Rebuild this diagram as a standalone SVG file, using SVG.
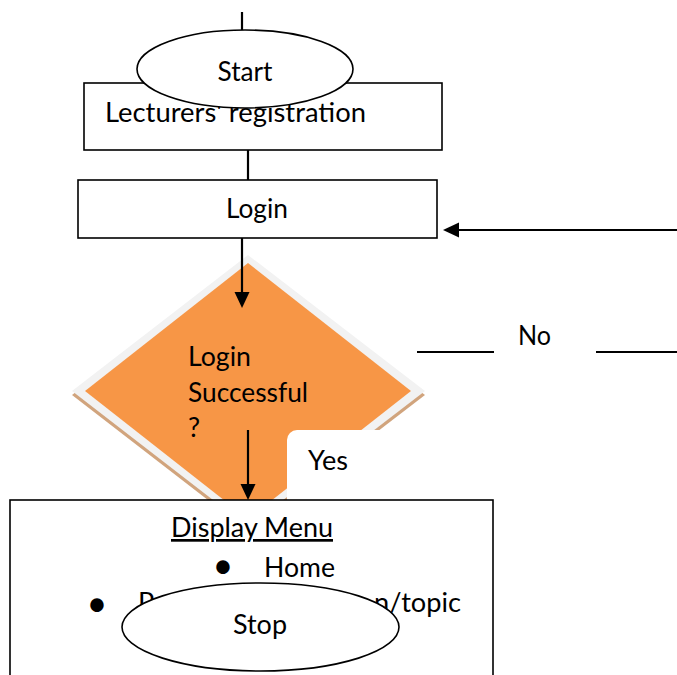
<svg xmlns="http://www.w3.org/2000/svg" width="677" height="675" viewBox="0 0 677 675">
<style>
.t{font-family:Lato,"Liberation Sans",sans-serif;font-size:27px;fill:#000}
.box{fill:#fff;stroke:#000;stroke-width:1.6}
.con{stroke:#000;stroke-width:2.2;fill:none}
</style>
<defs>
<marker id="ah" markerUnits="userSpaceOnUse" markerWidth="17" markerHeight="16" refX="6" refY="7.5" orient="auto">
<path d="M0,0 L16,7.5 L0,15 z" fill="#000"/>
</marker>
</defs>
<rect width="677" height="675" fill="#fff"/>
<g id="lecturers-registration">
<rect class="box" x="84" y="83" width="358" height="67"/>
<text class="t" x="105" y="122" textLength="261" lengthAdjust="spacingAndGlyphs">Lecturers' registration</text>
</g>
<g id="start">
<ellipse class="box" cx="245" cy="69" rx="108" ry="39"/>
<text class="t" x="245" y="81" text-anchor="middle" textLength="55" lengthAdjust="spacingAndGlyphs">Start</text>
</g>
<g id="login">
<rect class="box" x="78" y="180" width="359" height="58"/>
<text class="t" x="257" y="218" text-anchor="middle" textLength="62" lengthAdjust="spacingAndGlyphs">Login</text>
</g>
<g id="login-successful">
<polygon points="248,259 425,395 248,531 72,395" fill="#D1A47D"/>
<polygon points="248,255 425,391 248,527 72,391" fill="#F2F2F2"/>
<polygon points="248,263 411,391 248,519 85,391" fill="#F79646"/>
<text class="t" x="188" y="366" textLength="63" lengthAdjust="spacingAndGlyphs">Login</text>
<text class="t" x="188" y="402" textLength="120" lengthAdjust="spacingAndGlyphs">Successful</text>
<text class="t" x="188" y="437">?</text>
</g>
<g id="yes-label">
<rect x="287" y="430" width="106" height="80" rx="10" fill="#fff"/>
<text class="t" x="308" y="470" textLength="40" lengthAdjust="spacingAndGlyphs">Yes</text>
</g>
<g id="display-menu">
<rect class="box" x="10" y="500" width="483" height="200"/>
<text class="t" x="252" y="537" text-anchor="middle" text-decoration="underline" textLength="162" lengthAdjust="spacingAndGlyphs">Display Menu</text>
<text class="t" x="223" y="578" text-anchor="middle" style="font-size:36px">•</text>
<text class="t" x="264" y="577" textLength="71" lengthAdjust="spacingAndGlyphs">Home</text>
<text class="t" x="97" y="616" text-anchor="middle" style="font-size:36px">•</text>
<text class="t" x="138" y="612">P<tspan x="374" textLength="87" lengthAdjust="spacingAndGlyphs">n/topic</tspan></text>
</g>
<g id="stop">
<ellipse class="box" cx="260.5" cy="627" rx="138.5" ry="44"/>
<text class="t" x="260" y="634" text-anchor="middle" textLength="54" lengthAdjust="spacingAndGlyphs">Stop</text>
</g>
<g id="connectors">
<line class="con" x1="242" y1="12" x2="242" y2="30"/>
<line class="con" x1="248" y1="150" x2="248" y2="180"/>
<line class="con" x1="242" y1="238" x2="242" y2="298" marker-end="url(#ah)"/>
<line class="con" x1="248" y1="430" x2="248" y2="490" marker-end="url(#ah)"/>
<line class="con" x1="677" y1="230" x2="453" y2="230" marker-end="url(#ah)"/>
<line class="con" x1="417" y1="352" x2="677" y2="352"/>
<rect x="494" y="318" width="102" height="44" fill="#fff"/>
<text class="t" x="518" y="345" textLength="33" lengthAdjust="spacingAndGlyphs">No</text>
</g>
</svg>
